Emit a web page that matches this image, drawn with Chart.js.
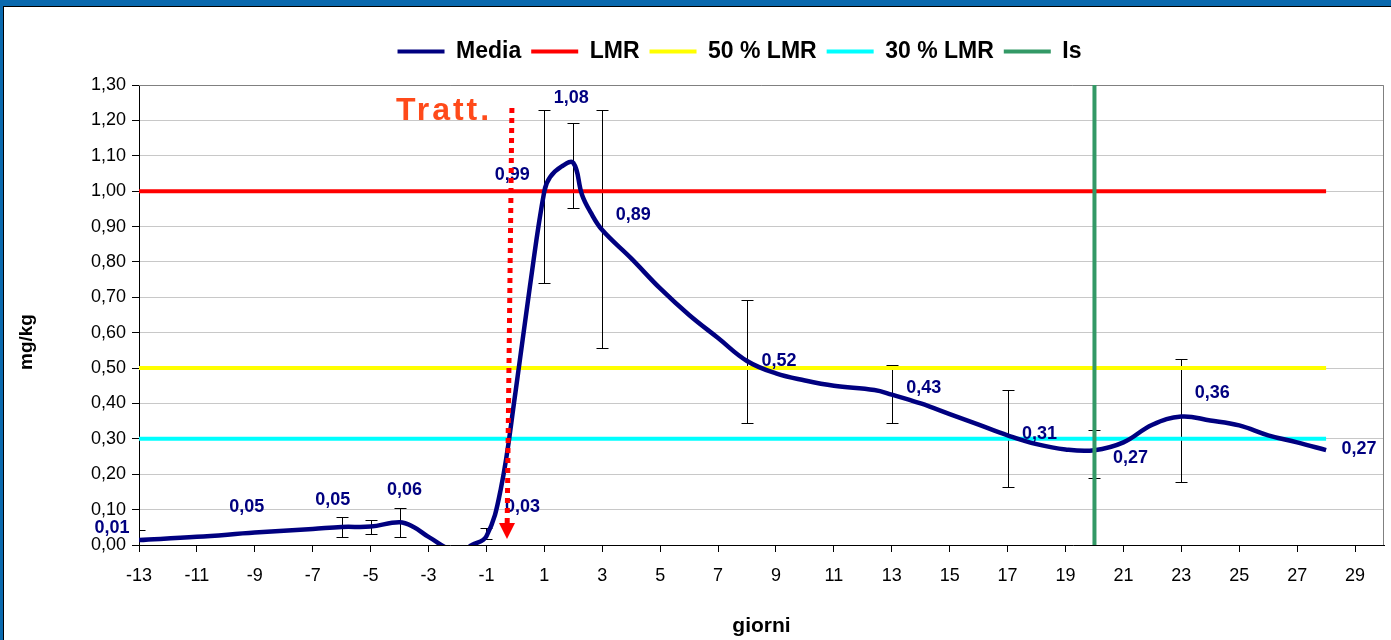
<!DOCTYPE html>
<html>
<head>
<meta charset="utf-8">
<script src="https://cdn.jsdelivr.net/npm/chart.js@4.4.1/dist/chart.umd.min.js"></script>
<style>
  html, body { margin: 0; padding: 0; }
  body { width: 1391px; height: 640px; background: #0a69ae; position: relative; overflow: hidden; }
  #cornice { position: absolute; left: 3px; top: 6px; right: 0; bottom: 0; background: #fff; border-left: 1px solid #000; border-top: 1px solid #000; }
  #grafico { position: absolute; left: 0; top: 0; }
</style>
</head>
<body>
<div id="cornice"></div>
<canvas id="grafico" width="1391" height="640"></canvas>
<script>
// Curva media (giorni / mg/kg)
const giorni = [-13, -11, -9, -7, -6, -5, -4, -3.5, -3, -2, -1.5, -1, -0.5, 0, 0.5, 1, 1.2, 1.6, 2, 2.3, 2.6, 3, 4, 5, 6, 7, 8, 9, 10, 11, 12.4, 13, 14, 15, 16, 17, 18, 19, 20, 21, 22, 23, 24, 25, 26, 27, 28];
const media = [0.014, 0.023, 0.035, 0.045, 0.051, 0.052, 0.064, 0.05, 0.023, -0.02, 0.0, 0.025, 0.16, 0.43, 0.73, 1.0, 1.04, 1.07, 1.08, 0.99, 0.94, 0.89, 0.81, 0.725, 0.65, 0.585, 0.52, 0.485, 0.465, 0.45, 0.438, 0.425, 0.40, 0.37, 0.34, 0.31, 0.285, 0.27, 0.268, 0.29, 0.34, 0.363, 0.352, 0.338, 0.31, 0.29, 0.268];

// Soglie
const lmr = 1.0;
const lmr50 = 0.5;
const lmr30 = 0.3;
const soglieInizio = -13;
const soglieFine = 28;
const giornoIs = 20;

// Barre di errore
const errGiorni = [-13, -6, -5, -4, -1, 1, 2, 3, 8, 13, 17, 20, 23];
const errMin = [0.0, 0.023, 0.031, 0.023, 0.017, 0.74, 0.952, 0.557, 0.346, 0.346, 0.164, 0.19, 0.179];
const errMax = [0.042, 0.079, 0.071, 0.104, 0.048, 1.228, 1.192, 1.228, 0.692, 0.509, 0.437, 0.325, 0.525];

// Etichette dei valori
const etichetteGiorni = [-13, -10, -6, -4, -1, 1, 2, 3, 8, 13, 17, 20, 23, 28];
const etichetteValori = [0.01, 0.05, 0.05, 0.06, 0.03, 0.99, 1.08, 0.89, 0.52, 0.43, 0.31, 0.27, 0.36, 0.27];

// Trattamento (freccia)
const trattGiorni = [-0.12, -0.29];
const trattValori = [1.235, 0.017];

// Assi
const tickGiorni = [-13, -11, -9, -7, -5, -3, -1, 1, 3, 5, 7, 9, 11, 13, 15, 17, 19, 21, 23, 25, 27, 29];

// spostamento in pixel delle etichette rispetto al punto
const spostamenti = [[-27, -13], [21, -20], [-9, -27], [5, -34], [36, -27], [-32, -20], [-2, -65], [31, -15], [32, 0], [32, -5], [32, -1], [36, 9], [31, -25], [33, 0]];

const FONT = "'Liberation Sans', Arial, sans-serif";
const virgola = (v) => v.toFixed(2).replace(".", ",");

function linea(x1, y1, x2, y2) {
  return [{ x: x1, y: y1 }, { x: x2, y: y2 }];
}

const pluginExtra = {
  id: "extra",
  afterLayout(chart) {
    chart.legend.left += 42;
    chart.legend.right += 42;
  },
  beforeDatasetsDraw(chart) {
    const { ctx, chartArea, scales } = chart;
    const xs = scales.x, ys = scales.y;
    ctx.save();
    // bordo area del grafico
    ctx.strokeStyle = "#808080";
    ctx.lineWidth = 1;
    ctx.beginPath();
    ctx.moveTo(chartArea.left, chartArea.top + 0.5);
    ctx.lineTo(chartArea.right - 0.5, chartArea.top + 0.5);
    ctx.lineTo(chartArea.right - 0.5, chartArea.bottom);
    ctx.stroke();
    // barre di errore
    ctx.beginPath();
    ctx.rect(chartArea.left, chartArea.top, chartArea.right - chartArea.left, chartArea.bottom - chartArea.top);
    ctx.clip();
    ctx.strokeStyle = "#000";
    ctx.lineWidth = 1;
    errGiorni.forEach((g, i) => {
      const x = Math.round(xs.getPixelForValue(g)) + 0.5;
      const yl = Math.round(ys.getPixelForValue(errMin[i])) + 0.5;
      const yh = Math.round(ys.getPixelForValue(errMax[i])) + 0.5;
      ctx.beginPath();
      ctx.moveTo(x, yl); ctx.lineTo(x, yh);
      ctx.moveTo(x - 6, yl); ctx.lineTo(x + 6, yl);
      ctx.moveTo(x - 6, yh); ctx.lineTo(x + 6, yh);
      ctx.stroke();
    });
    ctx.restore();
  },
  afterDatasetsDraw(chart) {
    const { ctx, chartArea, scales } = chart;
    const xs = scales.x, ys = scales.y;
    ctx.save();
    // etichette
    ctx.font = "bold 18px " + FONT;
    ctx.fillStyle = "#000080";
    ctx.textAlign = "center";
    ctx.textBaseline = "middle";
    etichetteGiorni.forEach((g, i) => {
      const x = xs.getPixelForValue(g) + spostamenti[i][0];
      const y = ys.getPixelForValue(etichetteValori[i]) + spostamenti[i][1];
      ctx.fillText(virgola(etichetteValori[i]), x, y);
    });
    // freccia tratteggiata
    const x1 = xs.getPixelForValue(trattGiorni[0]);
    const y1 = ys.getPixelForValue(trattValori[0]);
    const x2 = xs.getPixelForValue(trattGiorni[1]);
    const y2 = ys.getPixelForValue(trattValori[1]);
    ctx.strokeStyle = "#ff0000";
    ctx.fillStyle = "#ff0000";
    ctx.lineWidth = 5;
    ctx.setLineDash([5, 5]);
    ctx.beginPath();
    ctx.moveTo(x1, y1);
    ctx.lineTo(x2 + (x1 - x2) * 15 / (y2 - y1), y2 - 15);
    ctx.stroke();
    ctx.setLineDash([]);
    ctx.beginPath();
    ctx.moveTo(x2, y2);
    ctx.lineTo(x2 - 8, y2 - 16);
    ctx.lineTo(x2 + 8, y2 - 16);
    ctx.closePath();
    ctx.fill();
    // testo Tratt.
    ctx.font = "bold 32px " + FONT;
    ctx.fillStyle = "#ff4a1a";
    ctx.textAlign = "left";
    ctx.textBaseline = "middle";
    ctx.letterSpacing = "3px";
    ctx.fillText("Tratt.", x1 - 116, y1 + 3);
    ctx.letterSpacing = "0px";
    // titolo asse y
    ctx.font = "bold 19px " + FONT;
    ctx.fillStyle = "#000";
    ctx.textAlign = "center";
    ctx.translate(chartArea.left - 112, (chartArea.top + chartArea.bottom) / 2 + 27);
    ctx.rotate(-Math.PI / 2);
    ctx.fillText("mg/kg", 0, 0);
    ctx.restore();
  }
};

const ctx = document.getElementById("grafico").getContext("2d");
new Chart(ctx, {
  type: "scatter",
  data: {
    datasets: [
      {
        label: "Media",
        data: giorni.map((g, i) => ({ x: g, y: media[i] })),
        showLine: true,
        borderColor: "#000080",
        backgroundColor: "#000080",
        borderWidth: 4.5,
        pointRadius: 0,
        tension: 0.4,
        clip: 0,
        order: 1
      },
      {
        label: "LMR",
        data: linea(soglieInizio, lmr, soglieFine, lmr),
        showLine: true,
        borderColor: "#ff0000",
        backgroundColor: "#ff0000",
        borderWidth: 4,
        pointRadius: 0,
        order: 2
      },
      {
        label: "50 % LMR",
        data: linea(soglieInizio, lmr50, soglieFine, lmr50),
        showLine: true,
        borderColor: "#ffff00",
        backgroundColor: "#ffff00",
        borderWidth: 4,
        pointRadius: 0,
        order: 2
      },
      {
        label: "30 % LMR",
        data: linea(soglieInizio, lmr30, soglieFine, lmr30),
        showLine: true,
        borderColor: "#00ffff",
        backgroundColor: "#00ffff",
        borderWidth: 4,
        pointRadius: 0,
        order: 2
      },
      {
        label: "Is",
        data: linea(giornoIs, 0, giornoIs, 1.3),
        showLine: true,
        borderColor: "#339966",
        backgroundColor: "#339966",
        borderWidth: 4,
        pointRadius: 0,
        order: 0
      }
    ]
  },
  options: {
    responsive: false,
    animation: false,
    devicePixelRatio: 1,
    layout: { padding: { left: 11, right: 7, top: 30, bottom: 0 } },
    plugins: {
      tooltip: { enabled: false },
      legend: {
        position: "top",
        labels: {
          boxWidth: 47,
          boxHeight: 4,
          padding: 10,
          color: "#000",
          font: { family: FONT, size: 23, weight: "bold" },
          sort: (a, b) => a.datasetIndex - b.datasetIndex,
          generateLabels: (chart) =>
            Chart.defaults.plugins.legend.labels.generateLabels(chart).map((l) => ({ ...l, fillStyle: l.strokeStyle, lineWidth: 0 }))
        }
      }
    },
    scales: {
      x: {
        type: "linear",
        min: -13,
        max: 30,
        afterBuildTicks: (s) => { s.ticks = tickGiorni.map((v) => ({ value: v })); },
        afterFit: (s) => { s.height = 95; },
        ticks: {
          callback: (v) => String(v),
          autoSkip: false,
          maxRotation: 0,
          color: "#000",
          padding: 13,
          font: { family: FONT, size: 18 }
        },
        grid: { drawOnChartArea: false, tickLength: 7, color: "#000", tickColor: "#000" },
        border: { color: "#000", width: 1 },
        title: {
          display: true,
          text: "giorni",
          color: "#000",
          font: { family: FONT, size: 21, weight: "bold" },
          padding: { top: 4, bottom: 1 }
        }
      },
      spazio: {
        type: "linear",
        position: "top",
        display: true,
        grid: { display: false },
        border: { display: false },
        ticks: { display: false },
        afterFit: (s) => { s.height = 12; }
      },
      y: {
        min: 0,
        max: 1.3,
        afterFit: (s) => { s.width = 128; },
        ticks: {
          stepSize: 0.1,
          callback: (v) => virgola(v),
          color: "#000",
          padding: 6,
          font: { family: FONT, size: 18 }
        },
        grid: { color: "#c8c8c8", tickColor: "#000", tickLength: 7 },
        border: { color: "#000", width: 1 }
      }
    }
  },
  plugins: [pluginExtra]
});
</script>
</body>
</html>
